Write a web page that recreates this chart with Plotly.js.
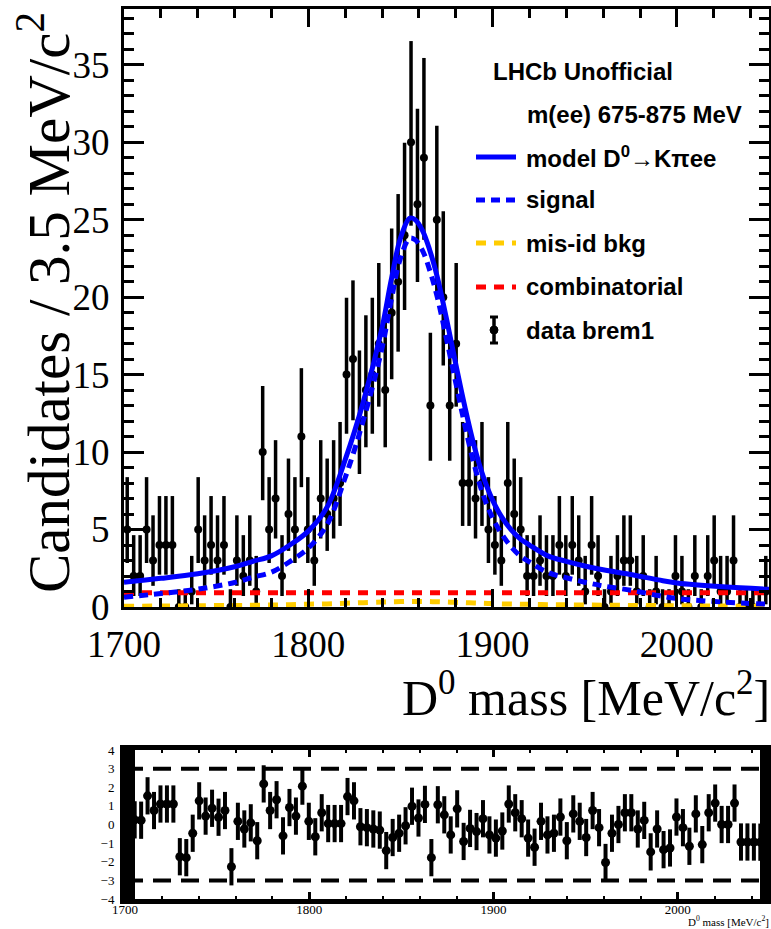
<!DOCTYPE html>
<html><head><meta charset="utf-8">
<script src="https://cdn.plot.ly/plotly-3.0.1.min.js"></script>
<style>body{margin:0;padding:0;background:#fff}#plot{width:771px;height:929px}</style>
</head><body><div id="plot"></div>
<script>
// ---- data ----
const massLow = 1700, massHigh = 2050, binWidth = 3.5;
const counts = [5,2,2,5,3,4,4,4,0,0, 1,5,3,4,3,4,0,3,2,3, 1,10,5,7,2,6,5,11,5,3, 7,6,7,8,15,16,12,14,15,17,
  14,19,21,24,30,26,29,13,25,20, 13,17,8,8,7,8,5,4,3,8, 6,5,2,2,3,2,2,4,2,4, 3,1,4,2,0,1,2,3,3,1,
  2,0,1,0,0,2,1,0,2,0, 2,3,1,1,3,0,0,0,0,1];
const pulls = [1.45,0.25,0.23,1.54,0.75,1.1,1.1,1.1,-1.73,-1.78, -0.47,1.27,0.45,0.87,0.39,0.75,-2.27,0.17,-0.24,0.09,
  -0.87,2.18,0.75,1.33,-0.61,0.91,0.45,2.06,0.17,-0.66, 0.63,0.05,0.05,0.05,1.5,1.27,-0.12,-0.17,-0.24,-0.3,
  -1.4,-0.7,-0.47,-0.07,0.98,0.35,1.08,-1.78,1.06,0.52, -0.56,0.84,-0.91,-0.21,-0.38,0.31,-0.56,-0.73,-0.35,1.10,
  0.63,0.31,-0.73,-1.22,0.17,-0.56,-0.47,0.40,-0.87,0.57, 0.17,-0.70,0.75,-0.17,-2.04,-0.47,0.0,0.63,0.63,-0.24,
  0.22,-1.47,-0.24,-1.35,-1.26,0.40,-0.17,-1.17,0.57,-1.08, 0.63,1.15,0.0,0.0,1.15,-0.94,-0.94,-0.94,-0.95,-0.95];
// 68% Poisson interval half-widths for n = 0..30 (lower, upper)
const poissonLo = [0,0.827,1.292,1.633,1.914,2.159,2.379,2.580,2.768,2.943,3.108,3.265,3.414,3.556,3.691,3.823,3.948,4.069,4.187,4.300,4.411,4.519,4.624,4.726,4.826,4.925,5.021,5.115,5.207,5.298,5.387];
const poissonHi = [1.147,2.299,2.638,2.918,3.162,3.382,3.583,3.770,3.944,4.110,4.266,4.416,4.559,4.697,4.830,4.958,5.083,5.204,5.321,5.435,5.546,5.655,5.761,5.864,5.965,6.064,6.161,6.256,6.349,6.440,6.530];

const curveMass = [1700,1720,1740,1760,1770,1780,1790,1800,1810,1820,1830,1840,1845,1850,1855,1858,1862,1866,1870,1875,1880,1885,1890,1895,1900,1905,1910,1915,1920,1930,1940,1950,1960,1975,1990,2000,2025,2050];
const modelVal = [1.6,1.85,2.15,2.6,2.95,3.3,4.0,4.9,6.4,9.5,13.3,18.0,21.1,23.8,25.1,25.0,24.3,23.0,21.3,18.6,15.7,12.9,10.4,8.4,6.9,5.8,5.0,4.4,4.0,3.3,2.95,2.65,2.4,2.1,1.75,1.55,1.3,1.15];
const signalVal = [0.63,0.87,1.15,1.58,1.92,2.25,2.93,3.8,5.28,8.34,12.1,16.7,19.8,22.5,23.8,23.7,23.0,21.7,20.0,17.3,14.5,11.7,9.2,7.2,5.75,4.7,3.9,3.3,2.91,2.23,1.89,1.6,1.36,1.08,0.74,0.55,0.32,0.18];
const misidVal = [0.05,0.06,0.08,0.1,0.11,0.13,0.15,0.18,0.2,0.24,0.28,0.32,0.34,0.35,0.36,0.36,0.36,0.35,0.34,0.32,0.3,0.28,0.26,0.24,0.22,0.2,0.19,0.18,0.17,0.15,0.14,0.13,0.12,0.1,0.09,0.08,0.06,0.05];
const combMass = [1700,2050];
const combVal = [0.92,0.92];

const legendLabels = ["LHCb Unofficial","m(ee) 675-875 MeV","model D<sup>0</sup>\u2192K\u03c0ee","signal","mis-id bkg","combinatorial","data brem1"];
const xTitle = "D<sup>0</sup> mass [MeV/c<sup>2</sup>]";
const yTitle = "Candidates / 3.5 MeV/c<sup>2</sup>";

// ---- build ----
const centers = counts.map((_, i) => massLow + binWidth * (i + 0.5));
const errLo = counts.map(n => poissonLo[n]);
const errHi = counts.map(n => poissonHi[n]);

const BLUE = '#0000ff', RED = '#ff0000', GOLD = '#ffcc00';
const SERIF = 'Liberation Serif, Times New Roman, serif';
const SANS = 'Liberation Sans, Arial, sans-serif';

const traces = [
  {x: centers, y: counts, type: 'scatter', mode: 'markers', xaxis: 'x', yaxis: 'y',
   marker: {color: 'black', size: 8},
   error_y: {type: 'data', symmetric: false, array: errHi, arrayminus: errLo, color: 'black', thickness: 3.5, width: 0},
   error_x: {type: 'constant', value: binWidth / 2, color: 'black', thickness: 2, width: 0}},
  {x: curveMass, y: misidVal, type: 'scatter', mode: 'lines', line: {color: GOLD, width: 5, dash: '10px,8px', shape: 'spline'}},
  {x: combMass, y: combVal, type: 'scatter', mode: 'lines', line: {color: RED, width: 5, dash: '10px,8px'}},
  {x: curveMass, y: signalVal, type: 'scatter', mode: 'lines', line: {color: BLUE, width: 5, dash: '9px,6px', shape: 'spline'}},
  {x: curveMass, y: modelVal, type: 'scatter', mode: 'lines', line: {color: BLUE, width: 5, shape: 'spline'}},
  {x: centers, y: pulls, type: 'scatter', mode: 'markers', xaxis: 'x2', yaxis: 'y2',
   marker: {color: 'black', size: 9},
   error_y: {type: 'constant', value: 1, color: 'black', thickness: 4, width: 0}}
];

const W = 771, H = 929;
const px = v => v / W, py = v => 1 - v / H;

const annotations = [
  {text: yTitle, xref: 'paper', yref: 'paper', x: px(44), y: py(303), textangle: -90, showarrow: false,
   xanchor: 'center', yanchor: 'middle', font: {family: SERIF, size: 59, color: 'black'}},
  {text: xTitle, xref: 'paper', yref: 'paper', x: px(772), y: py(694), showarrow: false,
   xanchor: 'right', yanchor: 'middle', font: {family: SERIF, size: 50, color: 'black'}},
  {text: xTitle, xref: 'paper', yref: 'paper', x: px(771), y: py(921), showarrow: false,
   xanchor: 'right', yanchor: 'middle', font: {family: SERIF, size: 11, color: 'black'}}
];
const legendX = [491, 525, 524, 524, 524, 524, 524];
const legendY = [72, 114, 157, 200, 243, 287, 330];
legendLabels.forEach((t, i) => annotations.push({
  text: '<b>' + t + '</b>', xref: 'paper', yref: 'paper', x: px(legendX[i]), y: py(legendY[i]), showarrow: false,
  xanchor: 'left', yanchor: 'middle', font: {family: SANS, size: 24, color: 'black'}}));

const shapes = [
  {type: 'line', xref: 'paper', yref: 'paper', x0: px(476), x1: px(516), y0: py(157), y1: py(157), line: {color: BLUE, width: 5}},
  {type: 'line', xref: 'paper', yref: 'paper', x0: px(476), x1: px(516), y0: py(200), y1: py(200), line: {color: BLUE, width: 5, dash: '9px,6px'}},
  {type: 'line', xref: 'paper', yref: 'paper', x0: px(476), x1: px(516), y0: py(243), y1: py(243), line: {color: GOLD, width: 5, dash: '10px,8px'}},
  {type: 'line', xref: 'paper', yref: 'paper', x0: px(476), x1: px(516), y0: py(287), y1: py(287), line: {color: RED, width: 5, dash: '10px,8px'}},
  {type: 'line', xref: 'paper', yref: 'paper', x0: px(494), x1: px(494), y0: py(317), y1: py(343), line: {color: 'black', width: 3.5}},
  {type: 'line', xref: 'paper', yref: 'paper', x0: px(490), x1: px(498), y0: py(317), y1: py(317), line: {color: 'black', width: 3}},
  {type: 'line', xref: 'paper', yref: 'paper', x0: px(490), x1: px(498), y0: py(343), y1: py(343), line: {color: 'black', width: 3}},
  {type: 'circle', xref: 'paper', yref: 'paper', x0: px(490), x1: px(498), y0: py(334), y1: py(326), fillcolor: 'black', line: {color: 'black', width: 1}},
  // residual reference lines at +-3
  {type: 'line', xref: 'x2 domain', yref: 'y2', x0: 0, x1: 1, y0: 3, y1: 3, line: {color: 'black', width: 4, dash: '18px,10px'}},
  {type: 'line', xref: 'x2 domain', yref: 'y2', x0: 0, x1: 1, y0: -3, y1: -3, line: {color: 'black', width: 4, dash: '18px,10px'}},
  // thick side bands of the residual frame
  {type: 'rect', xref: 'paper', yref: 'y2 domain', x0: px(125), x1: px(135), y0: 0, y1: 1, fillcolor: 'black', line: {width: 0}},
  {type: 'rect', xref: 'paper', yref: 'y2 domain', x0: px(760), x1: px(770), y0: 0, y1: 1, fillcolor: 'black', line: {width: 0}}
];

const axBase = {showgrid: false, zeroline: false, showline: true, linecolor: 'black', mirror: 'allticks',
  ticks: 'inside', tickcolor: 'black'};

const layout = {
  width: W, height: H, margin: {l: 0, r: 0, t: 0, b: 0}, paper_bgcolor: 'white', plot_bgcolor: 'white',
  showlegend: false,
  xaxis: Object.assign({}, axBase, {domain: [px(124), px(769)], range: [massLow, massHigh], anchor: 'y',
    tick0: 1700, dtick: 100, ticklen: 18, tickwidth: 3, linewidth: 3, ticklabelstandoff: 3,
    minor: {dtick: 20, ticklen: 9, tickwidth: 3, ticks: 'inside', tickcolor: 'black', showgrid: false},
    tickfont: {family: SERIF, size: 37, color: 'black'}}),
  yaxis: Object.assign({}, axBase, {domain: [1 - 607 / H, 1 - 9 / H], range: [0, 38.6], anchor: 'x',
    tick0: 0, dtick: 5, ticklen: 20, tickwidth: 3, linewidth: 3, ticklabelstandoff: 4,
    minor: {dtick: 1, ticklen: 10, tickwidth: 3, ticks: 'inside', tickcolor: 'black', showgrid: false},
    tickfont: {family: SERIF, size: 37, color: 'black'}}),
  xaxis2: Object.assign({}, axBase, {domain: [px(125), px(770)], range: [massLow, massHigh], anchor: 'y2',
    tick0: 1700, dtick: 100, ticklen: 7, tickwidth: 3, linewidth: 5, ticklabelstandoff: -6,
    minor: {dtick: 20, ticklen: 3, tickwidth: 2, ticks: 'inside', tickcolor: 'black', showgrid: false},
    tickfont: {family: SERIF, size: 13, color: 'black'}}),
  yaxis2: Object.assign({}, axBase, {domain: [1 - 899 / H, 1 - 750 / H], range: [-4, 4], anchor: 'x2',
    tick0: 0, dtick: 1, ticklen: 8, tickwidth: 3, linewidth: 5, ticklabelstandoff: 3,
    tickfont: {family: SERIF, size: 13, color: 'black'}}),
  annotations: annotations,
  shapes: shapes
};

Plotly.newPlot('plot', traces, layout, {staticPlot: true, displayModeBar: false});
</script>
</body></html>
